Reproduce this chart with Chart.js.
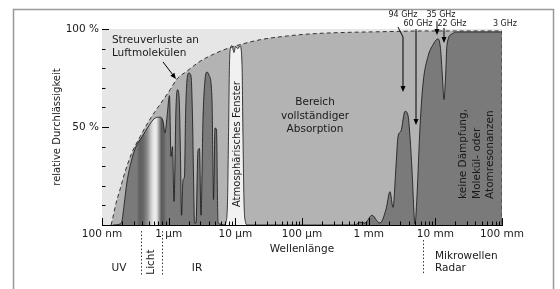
<!DOCTYPE html>
<html>
<head>
<meta charset="utf-8">
<script src="https://cdn.jsdelivr.net/npm/chart.js@4.4.1/dist/chart.umd.min.js"></script>
<style>
  html, body { margin: 0; padding: 0; background: #fff; }
</style>
</head>
<body>
<canvas id="chart" width="560" height="289"></canvas>
<script>
// wavelengths in µm, transmission in %
const scatterWl = [0.137, 0.146, 0.162, 0.186, 0.221, 0.282, 0.372, 0.525, 0.741, 1.05, 1.33, 1.88, 2.95,
  4.62, 7.5, 11.7, 23.4, 46.8, 111, 263, 1479, 8318, 100000];
const scatterPct = [0, 4, 11, 18, 27, 37, 45, 54, 61.5, 69, 74.5, 78.5, 83.5,
  87, 90, 92, 94.5, 96, 97.3, 98, 98.6, 99, 99];

const transWl = [0.146, 0.186, 0.1995, 0.214, 0.237, 0.272, 0.324, 0.398, 0.49, 0.624, 0.741, 0.822,
  0.881, 0.944, 1.029, 1.084, 1.142, 1.202, 1.288, 1.357, 1.429, 1.505, 1.558, 1.641, 1.728, 1.789,
  1.884, 2.018, 2.163, 2.278, 2.358, 2.441, 2.57, 2.754, 2.9, 3.055, 3.273, 3.508, 3.758, 4.027,
  4.467, 4.704, 4.955, 5.218, 5.495, 5.888, 6.76, 623.7, 741, 881, 1122, 1380, 1479, 1820, 2089,
  2317, 2570, 2754, 3055, 3508, 3890, 4169, 4467, 4955, 5309, 5888, 6531, 7762, 9226, 10965,
  11957, 12812, 13490, 14207, 14962, 17783, 21135, 100000];
const transPct = [0, 0.5, 2, 10, 22, 32, 40, 45, 50, 54.5, 55, 53,
  47, 55, 66, 35, 40, 12, 60, 69, 66, 35, 5, 23, 25, 55,
  74, 77.5, 76, 55, 25, 1, 1, 38, 39, 5, 54, 74, 78, 76.5,
  64, 13, 49.5, 48.5, 1.5, 0.5, 0, 0, 1.5, 1, 5, 1.5, 1, 8, 17,
  9, 30, 45, 48, 58, 56, 45, 28, 0.5, 15, 50, 72, 86, 92, 95,
  90, 75, 64, 75, 92, 97.5, 98.5, 98.5];

const windowWl = [6.76, 7.244, 7.63, 7.898, 8.175, 8.46, 8.91, 9.55, 10.06, 10.96, 11.75, 12.59,
  13.03, 13.49, 14.21, 14.96];
const windowPct = [0, 1.5, 12, 45, 82, 90, 91.5, 88, 91, 90, 91.5, 82, 45, 12, 1.5, 0];

const tickValues = [0.1, 1, 10, 100, 1000, 10000, 100000];
const tickLabels = ["100 nm", "1 µm", "10 µm", "100 µm", "1 mm", "10 mm", "100 mm"];
const yTickLabels = { 50: "50 %", 100: "100 %" };

const FONT = "'DejaVu Sans', 'Liberation Sans', sans-serif";
const INK = "#1a1a1a";
const DARK = "#7a7a7a";

const toPoints = (xs, ys) => xs.map((x, i) => ({ x: x, y: ys[i] }));

// grey-scale spectrum inside the visible window
const spectrumStops = [[0.33, DARK], [0.37, "#5e5e5e"], [0.42, "#6a6a6a"], [0.48, "#8f8f8f"],
  [0.54, "#c8c8c8"], [0.6, "#ececec"], [0.66, "#e4e4e4"], [0.72, "#9c9c9c"], [0.78, "#5a5a5a"],
  [0.86, "#666666"], [0.92, DARK]];

function transFill(context) {
  const chart = context.chart;
  const area = chart.chartArea;
  if (!area) return DARK;
  const xs = chart.scales.x;
  const g = chart.ctx.createLinearGradient(area.left, 0, area.right, 0);
  g.addColorStop(0, DARK);
  spectrumStops.forEach(([wl, c]) => {
    g.addColorStop((xs.getPixelForValue(wl) - area.left) / (area.right - area.left), c);
  });
  g.addColorStop(1, DARK);
  return g;
}

// text notes in data coordinates (µm, %)
const notes = [
  { text: "Streuverluste an", wl: 0.141, pct: 94.4, align: "left" },
  { text: "Luftmolekülen", wl: 0.141, pct: 87.8, align: "left" },
  { text: "Bereich", wl: 156.7, pct: 62.8 },
  { text: "vollständiger", wl: 156.7, pct: 55.6 },
  { text: "Absorption", wl: 156.7, pct: 49 },
  { text: "Atmosphärisches Fenster", wl: 10.6, pct: 41.3, rotate: true, size: 10 },
  { text: "keine Dämpfung,", wl: 26000, pct: 13.3, rotate: true, align: "left" },
  { text: "Molekül- oder", wl: 42170, pct: 13.3, rotate: true, align: "left" },
  { text: "Atomresonanzen", wl: 66069, pct: 13.3, rotate: true, align: "left" },
  { text: "94 GHz", wl: 3273, pct: 107.1, size: 8 },
  { text: "35 GHz", wl: 12162, pct: 107.1, size: 8 },
  { text: "60 GHz", wl: 5495, pct: 102.6, size: 8 },
  { text: "22 GHz", wl: 17783, pct: 102.6, size: 8 },
  { text: "3 GHz", wl: 110918, pct: 102.6, size: 8 },
  { text: "UV", wl: 0.18, pct: -21.9 },
  { text: "Licht", wl: 0.543, pct: -18.9, rotate: true },
  { text: "IR", wl: 2.66, pct: -21.9 },
  { text: "Mikrowellen", wl: 9886, pct: -15.8, align: "left" },
  { text: "Radar", wl: 9886, pct: -21.9, align: "left" }
];

const arrows = [
  [[0.822, 83.2], [1.288, 74.5]],
  [[2754, 101], [3273, 95.9], [3273, 67.9]],
  [[5129, 100], [5129, 51]],
  [[10593, 104], [10593, 96.9]],
  [[13490, 100.5], [13490, 92.9]]
];

const dividers = [
  [[0.384, -3.1], [0.384, -25.5]],
  [[0.79, -3.1], [0.79, -25.5]],
  [[6530, -7.7], [6530, -25.5]]
];

const decorations = {
  id: "decorations",
  beforeDraw(chart) {
    const ctx = chart.ctx;
    ctx.save();
    ctx.strokeStyle = "#999";
    ctx.lineWidth = 1.5;
    ctx.strokeRect(13.5, 9.5, 540, 300);
    ctx.restore();
  },
  beforeDatasetsDraw(chart) {
    const { ctx, chartArea: a } = chart;
    ctx.save();
    ctx.fillStyle = "#e6e6e6";
    ctx.fillRect(a.left, a.top, a.right - a.left, a.bottom - a.top);
    ctx.restore();
  },
  afterDraw(chart) {
    const { ctx, chartArea: a, scales: { x, y } } = chart;
    const px = (wl) => x.getPixelForValue(wl);
    const py = (p) => y.getPixelForValue(p);
    ctx.save();

    // inward tick marks
    ctx.strokeStyle = "#000";
    ctx.lineWidth = 1;
    ctx.beginPath();
    tickValues.forEach((dec, i) => {
      const mults = i < tickValues.length - 1 ? [1, 2, 3, 4, 5, 6, 7, 8, 9] : [1];
      mults.forEach((m) => {
        const tx = Math.round(px(dec * m)) + 0.5;
        ctx.moveTo(tx, a.bottom);
        ctx.lineTo(tx, a.bottom - (m === 1 ? 7 : 3.5));
      });
    });
    for (let v = 10; v <= 100; v += 10) {
      const ty = Math.round(py(v)) + 0.5;
      ctx.moveTo(a.left, ty);
      ctx.lineTo(a.left + (v % 50 === 0 ? 7 : 3.5), ty);
    }
    ctx.stroke();

    // dotted dividers below the axis
    ctx.setLineDash([1.5, 2]);
    ctx.strokeStyle = "#333";
    dividers.forEach(([p0, p1]) => {
      ctx.beginPath();
      ctx.moveTo(Math.round(px(p0[0])) + 0.5, py(p0[1]));
      ctx.lineTo(Math.round(px(p1[0])) + 0.5, py(p1[1]));
      ctx.stroke();
    });
    ctx.setLineDash([]);

    // arrows
    ctx.strokeStyle = "#000";
    ctx.fillStyle = "#000";
    ctx.lineWidth = 1;
    arrows.forEach((pts) => {
      const xy = pts.map(([w, p]) => [px(w), py(p)]);
      const n = xy.length;
      const [ex, ey] = xy[n - 1];
      const [sx, sy] = xy[n - 2];
      const ang = Math.atan2(ey - sy, ex - sx);
      ctx.beginPath();
      ctx.moveTo(xy[0][0], xy[0][1]);
      for (let i = 1; i < n - 1; i++) ctx.lineTo(xy[i][0], xy[i][1]);
      ctx.lineTo(ex - 4 * Math.cos(ang), ey - 4 * Math.sin(ang));
      ctx.stroke();
      ctx.beginPath();
      ctx.moveTo(ex, ey);
      ctx.lineTo(ex - 6 * Math.cos(ang) + 2.5 * Math.sin(ang), ey - 6 * Math.sin(ang) - 2.5 * Math.cos(ang));
      ctx.lineTo(ex - 6 * Math.cos(ang) - 2.5 * Math.sin(ang), ey - 6 * Math.sin(ang) + 2.5 * Math.cos(ang));
      ctx.closePath();
      ctx.fill();
    });

    // notes
    ctx.fillStyle = INK;
    ctx.textBaseline = "middle";
    notes.forEach((n) => {
      ctx.font = (n.size || 10.5) + "px " + FONT;
      ctx.textAlign = n.align || "center";
      ctx.save();
      ctx.translate(px(n.wl), py(n.pct));
      if (n.rotate) ctx.rotate(-Math.PI / 2);
      ctx.fillText(n.text, 0, 0);
      ctx.restore();
    });
    ctx.restore();
  }
};

const scatterPoints = toPoints(scatterWl, scatterPct);

new Chart(document.getElementById("chart"), {
  type: "line",
  data: {
    datasets: [
      {
        label: "Streuverluste",
        data: scatterPoints.concat([{ x: scatterWl[scatterWl.length - 1], y: 0 }]),
        borderColor: "#333",
        borderWidth: 1,
        borderDash: [4, 3],
        fill: false,
        cubicInterpolationMode: "monotone",
        order: 0
      },
      {
        label: "Atmosphärisches Fenster",
        data: toPoints(windowWl, windowPct),
        borderColor: "#111",
        borderWidth: 0.8,
        backgroundColor: "#f1f1f1",
        fill: "origin",
        cubicInterpolationMode: "monotone",
        order: 1
      },
      {
        label: "Durchlässigkeit",
        data: toPoints(transWl, transPct),
        borderColor: "#111",
        borderWidth: 0.8,
        backgroundColor: transFill,
        fill: "origin",
        cubicInterpolationMode: "monotone",
        order: 2
      },
      {
        label: "Streuung",
        data: scatterPoints,
        borderWidth: 0,
        backgroundColor: "#b3b3b3",
        fill: "origin",
        cubicInterpolationMode: "monotone",
        order: 3
      }
    ]
  },
  options: {
    responsive: false,
    animation: false,
    devicePixelRatio: 1,
    layout: { padding: { top: 29, right: 58, bottom: 0, left: 0 } },
    elements: { point: { radius: 0 } },
    plugins: { legend: { display: false }, tooltip: { enabled: false } },
    scales: {
      x: {
        type: "logarithmic",
        min: 0.1,
        max: 100000,
        z: 1,
        afterFit: (s) => { s.height = 64; },
        afterBuildTicks: (s) => { s.ticks = tickValues.map((v) => ({ value: v })); },
        grid: { display: false, drawTicks: false },
        border: { display: true, color: "#000", width: 1 },
        ticks: {
          autoSkip: false,
          maxRotation: 0,
          padding: 3,
          color: INK,
          font: { family: FONT, size: 10.5 },
          callback: (v) => {
            const i = tickValues.findIndex((t) => Math.abs(Math.log10(t) - Math.log10(v)) < 1e-6);
            return i >= 0 ? tickLabels[i] : "";
          }
        },
        title: {
          display: true,
          text: "Wellenlänge",
          color: INK,
          font: { family: FONT, size: 10.5 },
          padding: { top: 0, bottom: 33 }
        }
      },
      y: {
        min: 0,
        max: 100,
        z: 1,
        afterFit: (s) => { s.width = 102; },
        grid: { display: false, drawTicks: false },
        border: { display: true, color: "#000", width: 1 },
        ticks: {
          stepSize: 10,
          padding: 3,
          color: INK,
          font: { family: FONT, size: 10.5 },
          callback: (v) => yTickLabels[v] || ""
        },
        title: {
          display: true,
          text: "relative Durchlässigkeit",
          color: INK,
          font: { family: FONT, size: 10 },
          padding: { top: 51, bottom: 0 }
        }
      }
    }
  },
  plugins: [decorations]
});
</script>
</body>
</html>
